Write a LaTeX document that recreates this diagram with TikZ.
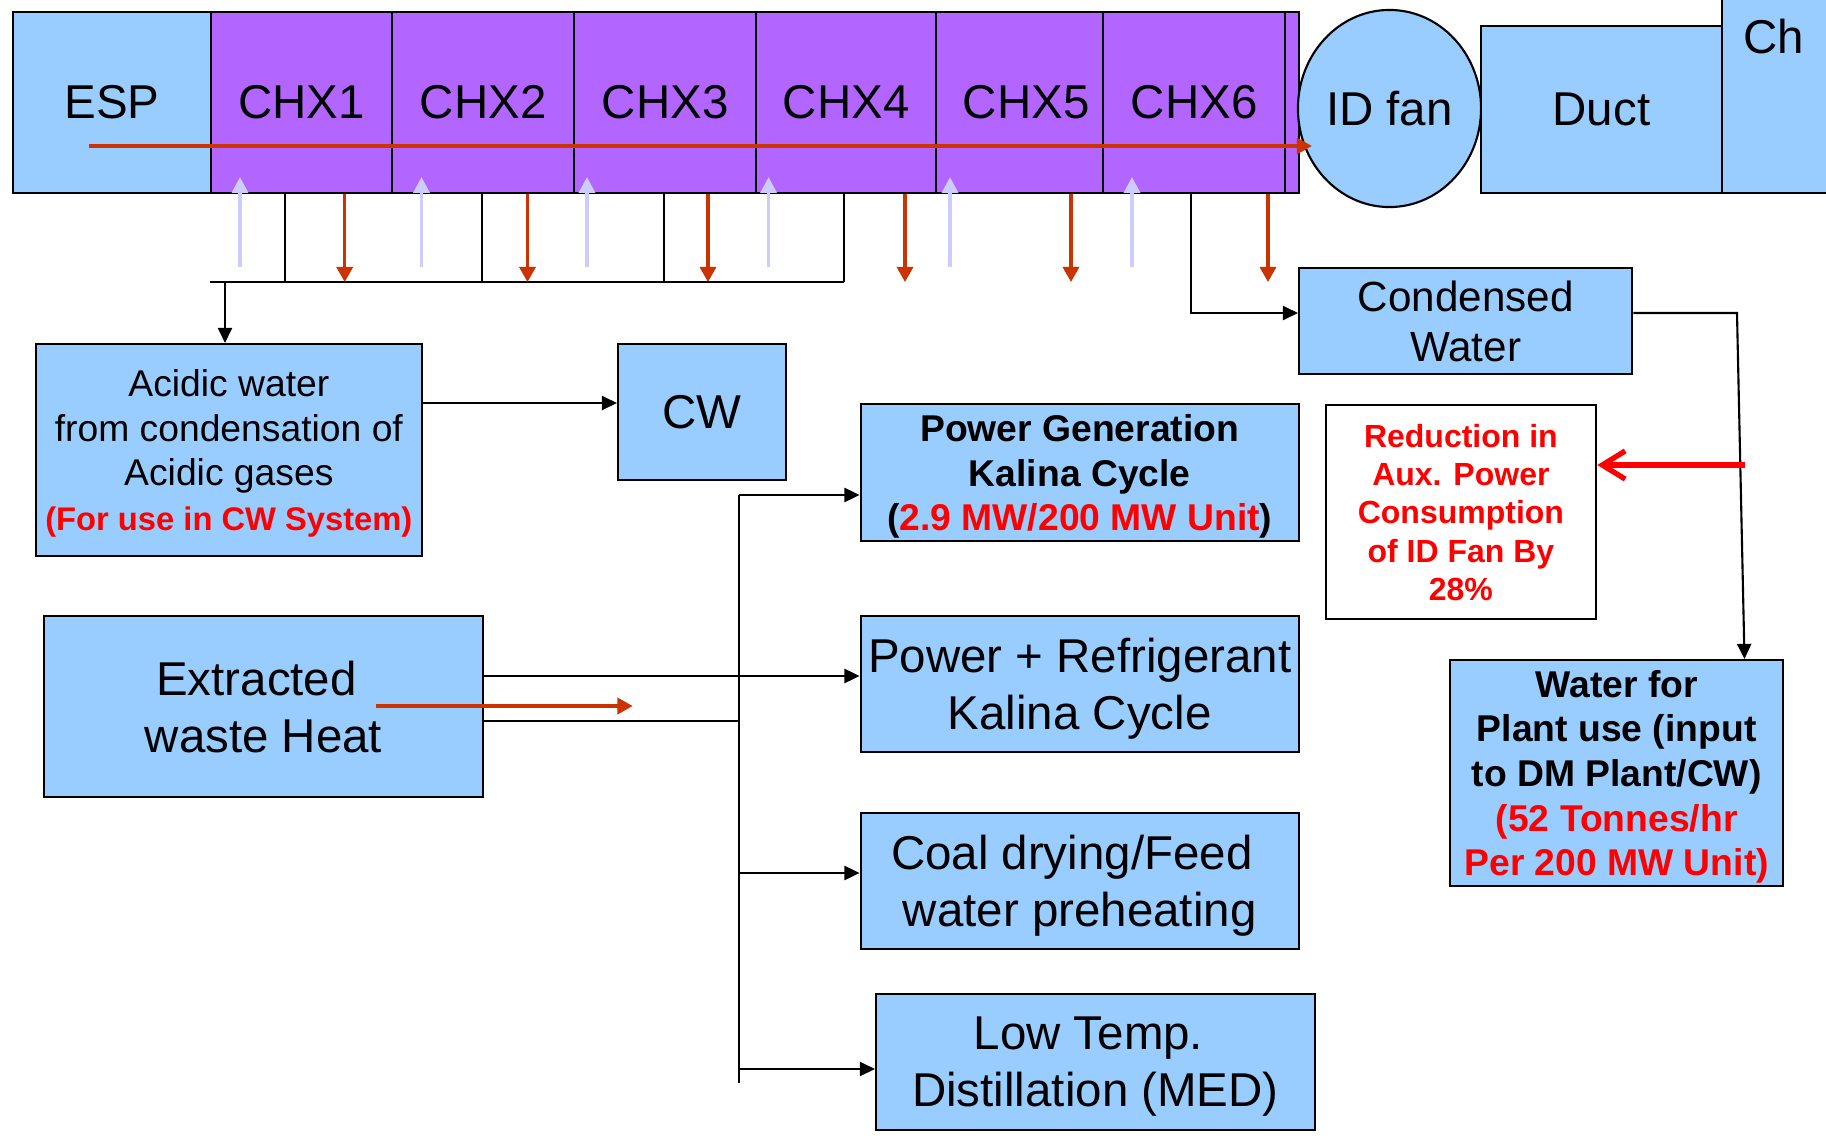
\documentclass[tikz,border=0pt]{standalone}
\usepackage{fontspec}
\setmainfont{Liberation Sans}
\usetikzlibrary{positioning,arrows.meta,shapes.geometric}
\definecolor{boxblue}{RGB}{153,204,255}
\definecolor{chxpurple}{RGB}{178,102,255}
\definecolor{gasred}{RGB}{204,51,0}
\definecolor{coolblue}{RGB}{204,204,255}
\definecolor{txtred}{RGB}{255,0,0}
\tikzset{
  blk/.style={draw,line width=0.6pt,fill=boxblue,anchor=north west,inner sep=0pt,align=center,text depth=0pt},
  chx/.style={blk,fill=chxpurple,minimum height=1.815cm},
  lnk/.style={line width=0.6pt,-{Triangle[length=4.3pt,width=4pt]}},
  lnkn/.style={line width=0.6pt},
  gas/.style={gasred,line width=0.9pt,-{Triangle[length=4.3pt,width=4.6pt]}},
  cool/.style={coolblue,line width=1pt,-{Triangle[length=4.5pt,width=4.5pt]}},
  saving/.style={txtred,line width=1.5pt,-{Straight Barb[length=6.5pt,width=8pt]}},
  fbig/.style={font=\fontsize{13.5}{16.2}\selectfont},
  fcond/.style={font=\fontsize{12}{14.2}\selectfont},
  fmid/.style={font=\fontsize{10.6}{12.7}\selectfont},
  fbold/.style={font=\fontsize{10.6}{12.7}\selectfont\bfseries},
  fsmall/.style={font=\fontsize{9.1}{10.9}\selectfont\bfseries,text=txtred}
}

\begin{document}
\begin{tikzpicture}[x=0.01cm,y=-0.01cm]
  \useasboundingbox (0,0) rectangle (1826,1139);
  \clip (0,0) rectangle (1826,1139);
  \node[blk,fbig,minimum width=1.984cm,minimum height=1.815cm] (esp) at (11.6,10.5) {ESP};
  \node[chx,fbig,minimum width=1.81cm] (chx1) at (210,10.5) {CHX1};
  \node[chx,fbig,minimum width=1.82cm] (chx2) at (391,10.5) {CHX2};
  \node[chx,fbig,minimum width=1.82cm] (chx3) at (573,10.5) {CHX3};
  \node[chx,fbig,minimum width=1.80cm] (chx4) at (755,10.5) {CHX4};
  \node[chx,fbig,minimum width=1.67cm] (chx5) at (935,10.5) {\hspace*{0.13cm}CHX5};
  \node[chx,fbig,minimum width=1.82cm] (chx6) at (1102,10.5) {CHX6};
  \node[chx,minimum width=0.14cm] (chxend) at (1284,10.5) {};
  \node[blk,ellipse,anchor=center,fbig,minimum width=1.83cm,minimum height=1.97cm] (fan) at (1389.5,108.5) {ID fan};
  \node[blk,fbig,minimum width=2.415cm,minimum height=1.67cm] (duct) at (1479.6,25) {Duct};
  \node[blk,minimum width=1.4cm,minimum height=2.2cm] (chim) at (1721,-28) {};
  \node[fbig] (chlab) at (1774,36.5) {Ch};

  \draw[gas,shorten >=-0.15cm] (88.5,146) -- (fan.west |- 0,146);
  \coordinate (coll) at (210,282); \coordinate (colr) at (844,282);
  \draw[lnkn] (coll) -- (colr);
  \foreach \x in {285,482,664,844} \draw[lnkn] (chx1.south -| \x,0) -- (coll -| \x,0);
  \foreach \x in {344.7,527.5,708,905,1071,1268} \draw[gas] (chx1.south -| \x,0) -- (coll -| \x,0);
  \foreach \x in {240,421.5,587,768.6,950,1132} \draw[cool] (\x,267) -- (\x,177);

  \node[blk,fmid,minimum width=3.86cm,minimum height=2.12cm] (acid) at (34.7,343) {Acidic water\\from condensation of\\Acidic gases\\{\fontsize{9.3}{12.7}\selectfont\bfseries\color{txtred}(For use in CW System)}};
  \node[blk,fbig,minimum width=1.68cm,minimum height=1.36cm] (cw) at (617,343) {CW};
  \node[blk,fcond,minimum width=3.33cm,minimum height=1.06cm] (cond) at (1298,267) {Condensed\\Water};
  \node[blk,fill=white,fsmall,minimum width=2.705cm,minimum height=2.14cm] (redn) at (1324.5,404) {Reduction in\\Aux. Power\\Consumption\\of ID Fan By\\28\%};
  \node[blk,fbold,minimum width=3.33cm,minimum height=2.26cm] (water) at (1449,659) {Water for\\Plant use (input\\to DM Plant/CW)\\\textcolor{txtred}{(52 Tonnes/hr}\\\textcolor{txtred}{Per 200 MW Unit)}};
  \node[blk,fbold,minimum width=4.38cm,minimum height=1.37cm] (pgen) at (859.6,403) {Power Generation\\Kalina Cycle\\(\textcolor{txtred}{2.9 MW/200 MW Unit})};
  \node[blk,fbig,minimum width=4.38cm,minimum height=1.36cm] (pref) at (859.6,615) {Power + Refrigerant\\Kalina Cycle};
  \node[blk,fbig,minimum width=4.38cm,minimum height=1.36cm] (coal) at (859.6,812) {Coal drying/Feed\hspace*{0.16cm}\\water preheating};
  \node[blk,fbig,minimum width=4.385cm,minimum height=1.36cm] (ltd) at (875,993) {Low Temp.\hspace*{0.14cm}\\Distillation (MED)};
  \node[blk,fbig,minimum width=4.386cm,minimum height=1.81cm] (heat) at (43,615) {Extracted\hspace*{0.14cm}\\waste Heat};

  \draw[lnk] (coll -| 225,0) -- (acid.north -| 225,0);
  \draw[lnk] (acid.east |- 0,403) -- (cw.west |- 0,403);
  \draw[lnk] (chx6.south -| 1191,0) |- (cond.west |- 0,313);
  \draw[lnk] (cond.east |- 0,313) -- (1737,313) -- (water.north -| 1744.5,0);
  \draw[saving] (1744.5,465) -- (redn.east |- 0,465);

  \coordinate (trunk) at (738.8,495); \coordinate (trunkend) at (738.8,1083);
  \draw[lnkn] (trunk) -- (trunkend);
  \draw[lnk] (heat.east |- 0,676) -- (pref.west |- 0,676);
  \draw[lnkn] (heat.east |- 0,721) -- (trunk |- 0,721);
  \draw[lnk] (trunk) -- (pgen.west |- trunk);
  \draw[lnk] (trunk |- 0,873) -- (coal.west |- 0,873);
  \draw[lnk] (trunk |- 0,1069) -- (ltd.west |- 0,1069);
  \draw[gas] (376,706) -- (632.6,706);
\end{tikzpicture}
\end{document}
